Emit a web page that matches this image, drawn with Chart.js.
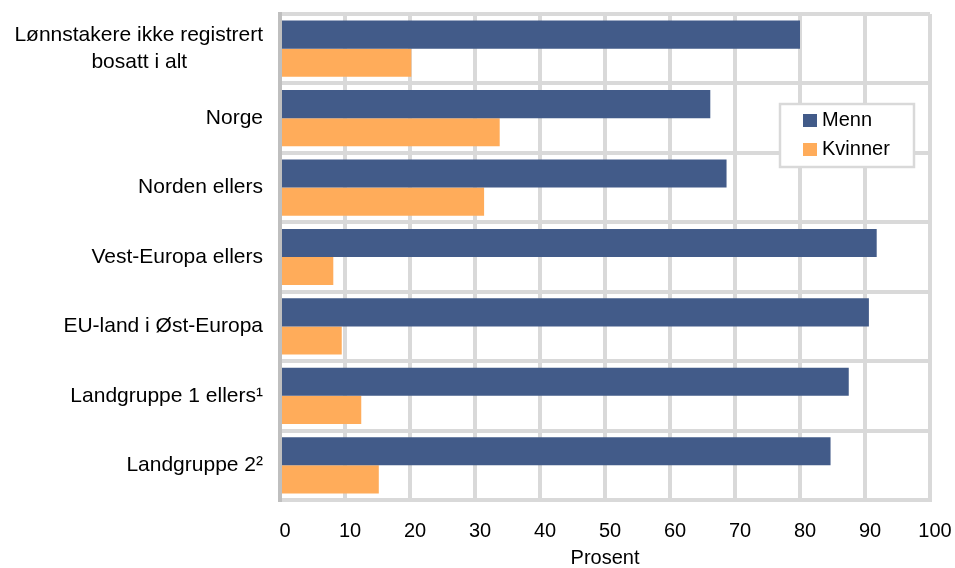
<!DOCTYPE html>
<html>
<head>
<meta charset="utf-8">
<script src="https://cdn.jsdelivr.net/npm/chart.js@4/dist/chart.umd.min.js"></script>
<style>
  html, body { margin: 0; padding: 0; background: #fff; }
  #wrap { width: 955px; height: 568px; }
</style>
</head>
<body>
<div id="wrap"><canvas id="c" width="955" height="568"></canvas></div>
<script>
// Andel menn/kvinner blant lønnstakere ikke registrert bosatt, etter landbakgrunn.
var kategorier = [
    ["Lønnstakere ikke registrert", "bosatt i alt"],
    "Norge",
    "Norden ellers",
    "Vest-Europa ellers",
    "EU-land i Øst-Europa",
    "Landgruppe 1 ellers\u00B9",
    "Landgruppe 2\u00B2"
];
var menn    = [80.0, 66.2, 68.7, 91.8, 90.6, 87.5, 84.7];
var kvinner = [20.2, 33.8, 31.4, 8.2, 9.5, 12.5, 15.2];
var xTicks  = [0, 10, 20, 30, 40, 50, 60, 70, 80, 90, 100];

var FONT = "'Liberation Sans', Arial, sans-serif";
var BLA = "#425B89";
var ORANSJE = "#FFAC5A";
var RUTENETT = "#D9D9D9";
var KAT_FONT = { family: FONT, size: 21, lineHeight: 1.29 };

// Legende inne i plottet, med hvit boks og grå ramme.
var legendeBoks = {
    id: "legendeBoks",
    afterDraw: function (chart) {
        var ctx = chart.ctx;
        var x = 780, y = 104, w = 134, h = 63;
        ctx.save();
        ctx.fillStyle = "#fff";
        ctx.fillRect(x, y, w, h);
        ctx.strokeStyle = RUTENETT;
        ctx.lineWidth = 2.5;
        ctx.strokeRect(x, y, w, h);
        ctx.font = "20px " + FONT;
        ctx.textBaseline = "middle";
        chart.data.datasets.forEach(function (ds, i) {
            var cy = y + 16 + i * 29;
            ctx.fillStyle = ds.backgroundColor;
            ctx.fillRect(x + 23, cy - 6, 14, 13);
            ctx.fillStyle = "#000";
            ctx.fillText(ds.label, x + 42, cy);
        });
        ctx.restore();
    }
};

// Flerlinjede etiketter sentreres på linjene (som i originalen) ved å fylle på med mellomrom.
function sentrerLinjer(chart, lab) {
    if (!Array.isArray(lab)) return lab;
    var ctx = chart.ctx;
    ctx.save();
    ctx.font = KAT_FONT.size + "px " + FONT;
    var bredder = lab.map(function (s) { return ctx.measureText(s).width; });
    var mellomrom = ctx.measureText(" ").width;
    ctx.restore();
    var maks = Math.max.apply(null, bredder);
    return lab.map(function (s, i) {
        var n = Math.round((maks - bredder[i]) / 2 / mellomrom);
        return s + new Array(n + 1).join(" ");
    });
}

new Chart(document.getElementById("c"), {
    type: "bar",
    data: {
        labels: kategorier,
        datasets: [
            { label: "Menn", data: menn, backgroundColor: BLA, categoryPercentage: 0.81, barPercentage: 1.0 },
            { label: "Kvinner", data: kvinner, backgroundColor: ORANSJE, categoryPercentage: 0.81, barPercentage: 1.0 }
        ]
    },
    options: {
        indexAxis: "y",
        responsive: false,
        animation: false,
        layout: { padding: { top: 14, right: 25, bottom: 0, left: 0 } },
        plugins: {
            legend: { display: false },
            tooltip: { enabled: false }
        },
        scales: {
            x: {
                min: 0,
                max: 100,
                afterBuildTicks: function (scale) {
                    scale.ticks = xTicks.map(function (v) { return { value: v }; });
                },
                grid: { color: RUTENETT, lineWidth: 4, drawTicks: false },
                border: { color: RUTENETT, width: 4 },
                ticks: {
                    color: "#000", font: { family: FONT, size: 20 },
                    padding: 19, labelOffset: 5, maxRotation: 0
                },
                title: {
                    display: true, text: "Prosent", color: "#000",
                    font: { family: FONT, size: 20 }, padding: { top: 0, bottom: -2 }
                },
                afterFit: function (scale) {
                    scale.height = 68;
                    scale.paddingLeft = 0;
                    scale.paddingRight = 0;
                }
            },
            y: {
                grid: { color: RUTENETT, lineWidth: 4, drawTicks: false, offset: true },
                border: { color: "#BFBFBF", width: 4 },
                ticks: {
                    color: "#000", font: KAT_FONT, padding: 17, autoSkip: false,
                    callback: function (value) {
                        return sentrerLinjer(this.chart, this.getLabelForValue(value));
                    }
                },
                afterFit: function (scale) {
                    scale.width = 280;
                    scale.paddingTop = 0;
                    scale.paddingBottom = 0;
                }
            }
        }
    },
    plugins: [legendeBoks]
});
</script>
</body>
</html>
